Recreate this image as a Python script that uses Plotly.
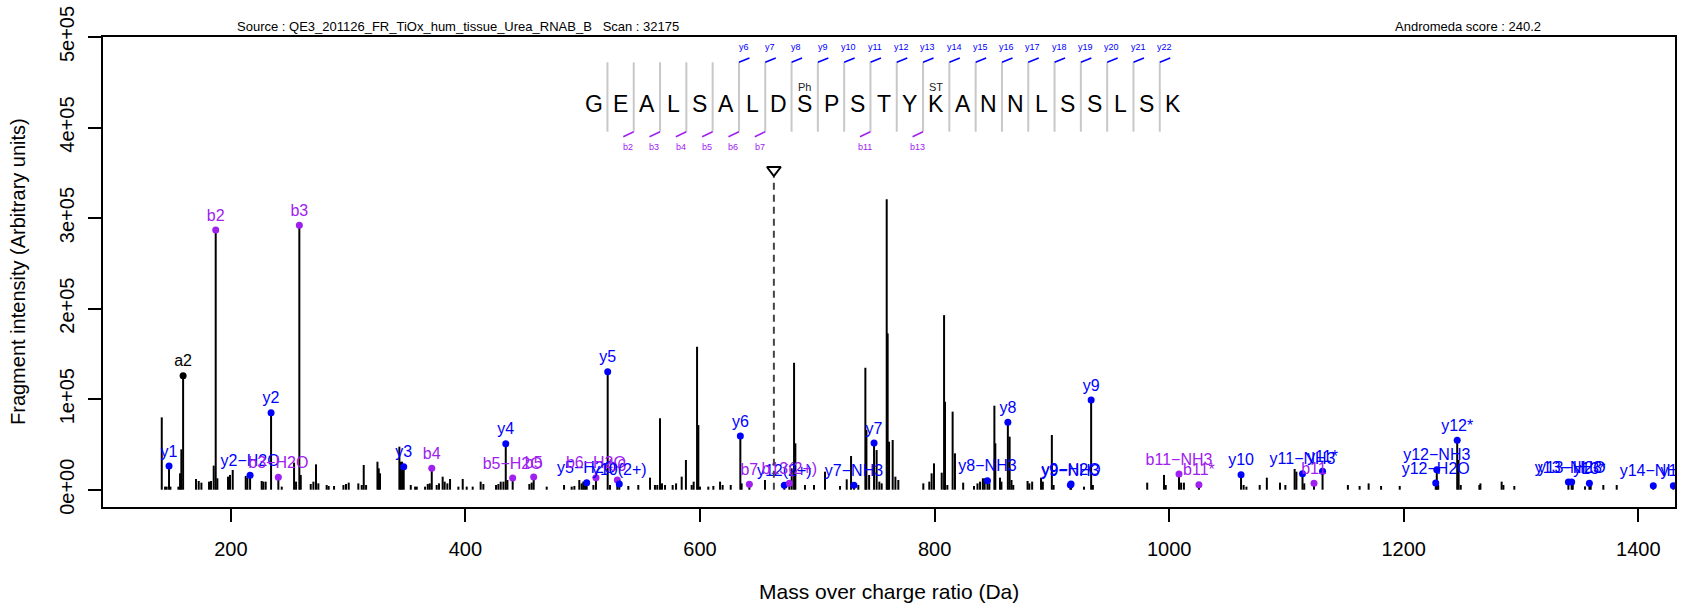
import plotly.graph_objects as go

# ---------------------------------------------------------------- data
# unannotated fragment peaks (m/z, intensity)
peak_mz = [141.1, 143.9, 145.3, 148.5, 155.3, 156.7, 157.8, 170.3, 172.6, 174.9,
           181.4, 183.1, 185.4, 188.5, 197.6, 199.3, 201.6, 212.7, 214.1, 226.3,
           227.7, 229.7, 243.4, 253.9, 255.6, 259.6, 268.1, 270.4, 272.6, 274.6,
           281.7, 283.4, 288.0, 296.0, 298.2, 300.5, 308.7, 311.6, 313.3, 315.3,
           325.0, 326.1, 327.2, 343.7, 344.8, 346.0, 353.4, 357.1, 358.5, 365.6,
           367.9, 369.6, 375.5, 377.5, 380.6, 382.3, 384.6, 386.9, 394.0, 397.7,
           401.1, 406.2, 413.0, 415.3, 426.1, 428.1, 430.1, 432.4, 435.8, 454.5,
           456.5, 469.3, 484.1, 490.6, 492.9, 497.1, 499.1, 500.5, 502.0, 509.1,
           523.3, 538.9, 547.4, 557.4, 561.6, 563.6, 565.9, 567.6, 570.2, 576.7,
           579.6, 584.4, 592.9, 594.6, 600.0, 607.1, 611.4, 588.0, 617.1,
           619.3, 597.5, 598.6, 626.2, 635.5, 655.4, 678.2, 680.2, 681.3, 689.5,
           697.2, 706.6, 741.0, 741.9, 719.4, 725.1, 728.8, 735.0, 744.2, 750.6,
           752.9, 754.9, 759.2, 760.0, 761.2, 764.3, 766.6, 769.1, 790.4, 795.5,
           797.5, 799.5, 806.1, 808.1, 808.9, 810.9, 815.4, 817.4, 824.4, 833.6,
           836.6, 838.8, 841.2, 842.7, 846.7, 851.0, 851.8, 855.8, 857.0, 864.0,
           865.6, 867.1, 879.3, 880.8, 883.2, 890.8, 892.3, 900.0, 901.5, 927.4,
           935.0, 981.3, 995.6, 997.1, 1010.2, 1012.6, 1063.5, 1065.9, 1077.2, 1083.3,
           1094.5, 1099.1, 1107.0, 1108.5, 1115.2, 1152.4, 1162.4, 1170.1, 1180.7, 1196.6,
           1229.4, 1246.8, 1248.6, 1264.5, 1265.4, 1283.5, 1285.0, 1294.3, 1344.1, 1354.6,
           1359.4, 1370.2, 1381.6]
peak_int = [79900, 3400, 3400, 3400, 3400, 18100, 44600, 11800, 9600, 7800,
            8900, 9600, 26600, 12600, 14400, 16300, 21800, 15200, 13300, 9600,
            8900, 8900, 3400, 29900, 8900, 16300, 6300, 8900, 28000, 7000,
            5200, 4100, 4100, 5200, 6300, 7800, 7000, 5200, 27300, 5200,
            30900, 23600, 18100, 47500, 30900, 30900, 5200, 3400, 3400, 3400,
            6300, 7000, 5200, 7000, 14400, 8900, 7000, 11800, 3400, 11800,
            3400, 3400, 8900, 6300, 5200, 6300, 8900, 8900, 10700, 6300,
            7800, 3400, 5200, 3400, 4100, 10700, 7000, 8900, 7000, 5200,
            5200, 4100, 5200, 13300, 5200, 5200, 78800, 7000, 5200, 5200,
            7000, 14400, 5200, 8900, 3400, 3400, 4100, 32800, 8900,
            5200, 157900, 71400, 5200, 7000, 10700, 23600, 140200, 51200, 5200,
            5200, 19900, 134700, 65900, 4100, 11500, 37200, 5200, 16300, 43800,
            8900, 7000, 320900, 172600, 53000, 54900, 14400, 10700, 7000, 8900,
            18100, 29100, 18800, 192800, 97200, 5200, 86200, 40200, 7800, 4100,
            7000, 8900, 12600, 12600, 7000, 92800, 51200, 13300, 8900, 58600,
            10700, 5200, 9600, 7000, 8900, 13300, 8900, 60400, 5200, 3400,
            5200, 7800, 16300, 5200, 7800, 7800, 5200, 3400, 5200, 13300,
            7800, 5200, 22900, 19900, 7000, 5200, 4100, 7000, 4100, 4100,
            5200, 32800, 5200, 5200, 7000, 8900, 5200, 4100, 7800, 3700,
            5200, 5200, 5200]

# annotated fragment ions
ion_label = ["y1", "a2", "b2", "y2−H2O", "y2", "b3−H2O", "b3", "y3", "b4", "y4",
             "b5−H2O", "b5", "y5−H2O", "b6−H2O", "y5", "b6", "y10(2+)", "y6", "b7",
             "y12(2+)", "b13(2+)", "y7−NH3", "y7", "y8−NH3", "y8", "y9−NH3", "y9−H2O",
             "y9", "b11−NH3", "b11*", "y10", "y11−NH3", "b11", "y11*", "y12−H2O",
             "y12−NH3", "y12*", "y13−NH3", "y13−H2O", "y13*", "y14−NH3", "y15"]
ion_mz = [147.3, 159.3, 187.1, 216.4, 234.3, 240.5, 258.4, 347.4, 371.3, 434.4,
          440.3, 458.2, 503.4, 511.3, 521.3, 529.5, 531.2, 634.4, 642.1,
          671.9, 676.2, 731.3, 748.4, 845.1, 862.5, 915.8, 916.4,
          933.5, 1008.4, 1025.4, 1061.3, 1113.7, 1123.5, 1130.8, 1227.3,
          1228.2, 1245.6, 1340.4, 1343.2, 1358.3, 1412.8, 1429.9]
ion_int = [26200, 125900, 286700, 15900, 85100, 13700, 292200, 25400, 23600, 50800,
           12900, 14000, 7800, 13300, 130300, 10700, 6300, 59300, 5900,
           4800, 7000, 4800, 51600, 10000, 74400, 5200, 6300,
           99000, 17400, 5600, 16600, 17700, 7000, 20300, 7400,
           22100, 54500, 8500, 8500, 7000, 4500, 4500]
ion_type = ["y", "a", "b", "y", "y", "b", "b", "y", "b", "y",
            "b", "b", "y", "b", "y", "b", "y", "y", "b",
            "y", "b", "y", "y", "y", "y", "y", "y",
            "y", "b", "b", "y", "y", "b", "y", "y",
            "y", "y", "y", "y", "y", "y", "y"]

sequence = "GEALSALDSPSTYKANNLSSLSK"
y_sites = list(range(6, 23))          # cleavage sites marked on top (y6..y22)
b_sites = [2, 3, 4, 5, 6, 7, 11, 13]  # cleavage sites marked below
mod_pos = [9, 14]
mod_text = ["Ph", "ST"]
precursor_mz = 663

x_ticks = [200, 400, 600, 800, 1000, 1200, 1400]
y_ticks = [0, 100000, 200000, 300000, 400000, 500000]
y_ticktext = ["0e+00", "1e+05", "2e+05", "3e+05", "4e+05", "5e+05"]

source_text = "Source : QE3_201126_FR_TiOx_hum_tissue_Urea_RNAB_B   Scan : 32175"
score_text = "Andromeda score : 240.2"
x_title = "Mass over charge ratio (Da)"
y_title = "Fragment intensity (Arbitrary units)"

# ---------------------------------------------------------------- layout helpers
W, H = 1690, 611
ML, MR, MT, MB = 103, 15, 37, 104
X0, X1 = ML, W - MR
Y0, Y1 = MT, H - MB
XR = [91.0, 1431.3]
YR = [-19100, 500000]
FONT = "Liberation Sans, Arial, Helvetica, sans-serif"
BLUE, PURPLE = "#0000FF", "#A020F0"
col = {"y": BLUE, "b": PURPLE, "a": "black"}


def px(x):
    return (x - X0) / (X1 - X0)


def py(y):
    return (Y1 - y) / (Y1 - Y0)


def int_at(y):
    return YR[0] + (Y1 - y) / (Y1 - Y0) * (YR[1] - YR[0])


fig = go.Figure()

# stems
sx, sy = [], []
for m, v in zip(peak_mz + ion_mz, peak_int + ion_int):
    sx += [m, m, None]
    sy += [0, v, None]
fig.add_trace(go.Scatter(x=sx, y=sy, mode="lines",
                         line=dict(color="black", width=2), hoverinfo="skip"))

# annotated ions: dot + label
fig.add_trace(go.Scatter(
    x=ion_mz, y=ion_int, mode="markers+text", text=ion_label,
    textposition="top center",
    marker=dict(size=7, color=[col[t] for t in ion_type]),
    textfont=dict(size=16, color=[col[t] for t in ion_type], family=FONT),
    hoverinfo="skip"))

# precursor
fig.add_shape(type="line", xref="x", yref="y", x0=precursor_mz, x1=precursor_mz,
              y0=0, y1=int_at(177), line=dict(color="#444", width=2, dash="7px,5px"))
fig.add_trace(go.Scatter(x=[precursor_mz], y=[int_at(170)], mode="markers",
                         marker=dict(symbol="triangle-down-open", size=12,
                                     color="black", line=dict(width=2)),
                         hoverinfo="skip"))

# peptide sequence
RES0, STEP = 594.3, 26.3
LTOP, LBOT = 62.3, 131.7
for k, aa in enumerate(sequence):
    fig.add_annotation(x=px(RES0 + k * STEP), y=py(103.5), xref="paper", yref="paper",
                       text=aa, showarrow=False, font=dict(size=23, color="black"),
                       xanchor="center", yanchor="middle")
for j in range(1, len(sequence)):
    sxp = RES0 + (j - 1) * STEP + STEP / 2
    fig.add_shape(type="line", xref="paper", yref="paper", x0=px(sxp), x1=px(sxp),
                  y0=py(LTOP), y1=py(LBOT), line=dict(color="#C8C8C8", width=2))
for j in y_sites:
    sxp = RES0 + (j - 1) * STEP + STEP / 2
    fig.add_shape(type="line", xref="paper", yref="paper", x0=px(sxp), x1=px(sxp + 10.5),
                  y0=py(LTOP), y1=py(LTOP - 4.3), line=dict(color=BLUE, width=1.5))
    fig.add_annotation(x=px(sxp + 4.7), y=py(47.5), xref="paper", yref="paper",
                       text="y%d" % j, showarrow=False, font=dict(size=9, color=BLUE),
                       xanchor="center", yanchor="middle")
for j in b_sites:
    sxp = RES0 + (j - 1) * STEP + STEP / 2
    fig.add_shape(type="line", xref="paper", yref="paper", x0=px(sxp), x1=px(sxp - 10.5),
                  y0=py(LBOT), y1=py(LBOT + 5), line=dict(color=PURPLE, width=1.5))
    fig.add_annotation(x=px(sxp - 5.7), y=py(146.7), xref="paper", yref="paper",
                       text="b%d" % j, showarrow=False, font=dict(size=9, color=PURPLE),
                       xanchor="center", yanchor="middle")
for p, t in zip(mod_pos, mod_text):
    fig.add_annotation(x=px(RES0 + (p - 1) * STEP), y=py(86.7), xref="paper", yref="paper",
                       text=t, showarrow=False, font=dict(size=11, color="#222"),
                       xanchor="center", yanchor="middle")

# header texts
fig.add_annotation(x=px(234.6), y=py(26), xref="paper", yref="paper", text=source_text,
                   showarrow=False, font=dict(size=13, color="black"),
                   xanchor="left", yanchor="middle")
fig.add_annotation(x=px(1543), y=py(26), xref="paper", yref="paper", text=score_text,
                   showarrow=False, font=dict(size=13, color="black"),
                   xanchor="right", yanchor="middle")

# axis titles
fig.add_annotation(x=0.5, y=py(591), xref="paper", yref="paper", text=x_title,
                   showarrow=False, font=dict(size=21, color="black"),
                   xanchor="center", yanchor="middle")
fig.add_annotation(x=px(18), y=0.5, xref="paper", yref="paper", text=y_title,
                   showarrow=False, textangle=-90, font=dict(size=20, color="black"),
                   xanchor="center", yanchor="middle")

axis_common = dict(showline=True, linewidth=2, linecolor="black", mirror=True,
                   ticks="outside", ticklen=13, tickwidth=2, tickcolor="black",
                   showgrid=False, zeroline=False, tickfont=dict(size=20, color="black"))
fig.update_xaxes(range=XR, tickvals=x_ticks, ticktext=[str(v) for v in x_ticks],
                 ticklabelstandoff=10, **axis_common)
fig.update_yaxes(range=YR, tickvals=y_ticks, ticktext=y_ticktext, tickangle=-90,
                 ticklabelstandoff=6, **axis_common)

fig.update_layout(width=W, height=H, showlegend=False,
                  margin=dict(l=ML, r=MR, t=MT, b=MB, pad=0, autoexpand=False),
                  plot_bgcolor="white", paper_bgcolor="white",
                  font=dict(family=FONT, color="black"))

# page body has a default 8px margin; drop it so the figure fills the window
fig.write_html("out.html", config={"displayModeBar": False},
               post_script="document.body.style.margin='0';")
